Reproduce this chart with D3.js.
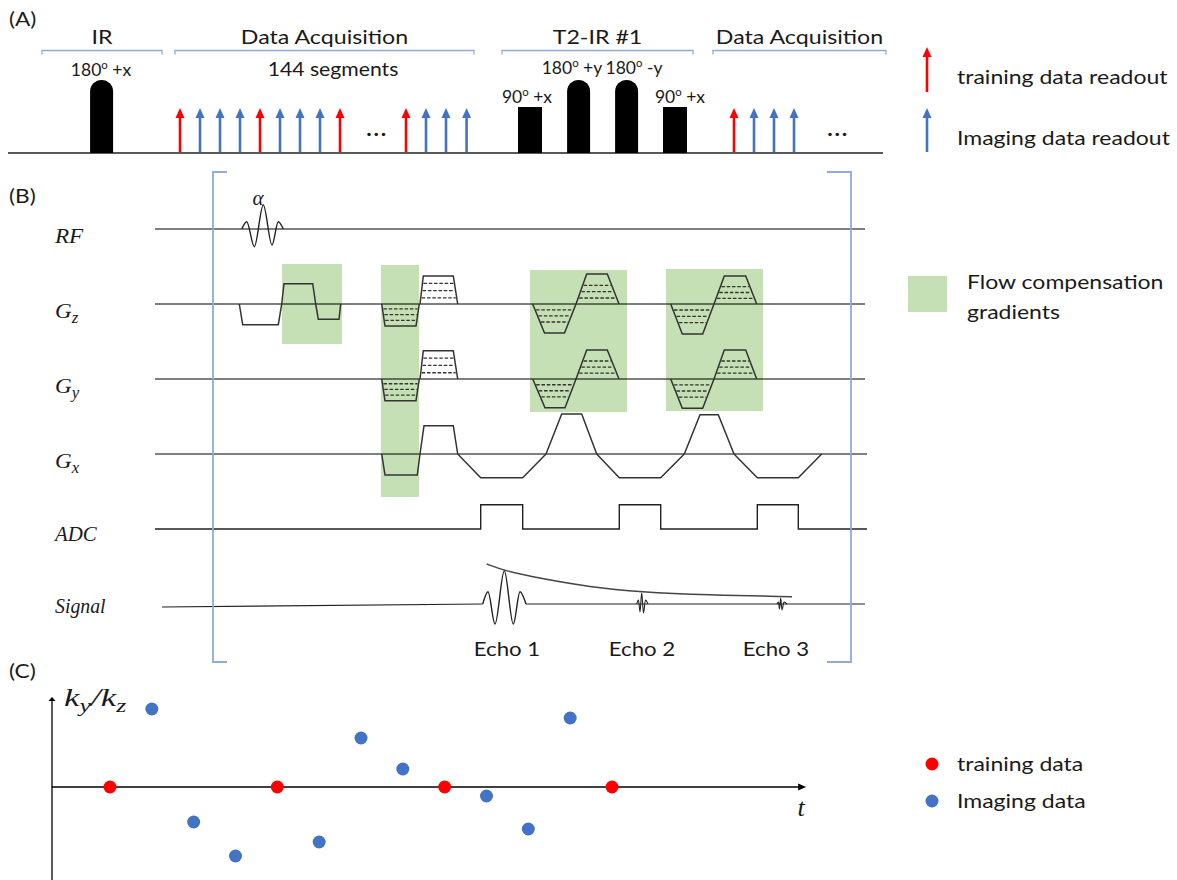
<!DOCTYPE html>
<html>
<head>
<meta charset="utf-8">
<script src="https://cdnjs.cloudflare.com/ajax/libs/d3/7.8.5/d3.min.js"></script>
<style>
  body { margin: 0; background: #fff; }
  svg { display: block; }
  .lbl { font-family: Lato, "Open Sans", sans-serif; fill: #1a1a1a; }
  .math { font-family: "Liberation Serif", "DejaVu Serif", serif; font-style: italic; fill: #1a1a1a; }
</style>
</head>
<body>
<svg id="fig" width="1177" height="880"></svg>
<script>
// ---------- panel A data (time unit = one readout spacing, height in pulse units)
var blockNames = ["IR", "Data Acquisition", "T2-IR #1", "Data Acquisition"];
var blockStart = [2.1, 8.75, 25.1, 35.65];
var blockEnd   = [8.1, 23.7, 34.65, 44.3];

var pulseCenter = [5.08, 26.5, 28.93, 31.33, 33.75];
var pulseWidth  = [1.15, 1.2, 1.15, 1.15, 1.2];
var pulseHeight = [3.65, 2.3, 3.65, 3.65, 2.3];
var pulseShape  = ["round", "rect", "round", "round", "rect"];
var pulseAngle  = ["180", "90", "180", "180", "90"];
var pulsePhase  = [" +x", " +x", " +y", " -y", " +x"];
var labelT      = [5.05, 26.35, 28.6, 31.7, 34.0];
var labelH      = [3.85, 2.52, 3.95, 3.95, 2.52];

var readoutT    = [9, 10, 11, 12, 13, 14, 15, 16, 17, 20.3, 21.3, 22.3, 23.33, 36.7, 37.7, 38.7, 39.7];
var readoutKind = ["train", "img", "img", "img", "train", "img", "img", "img", "train",
                   "train", "img", "img", "img", "train", "img", "img", "img"];
var ellipsisT   = [18.85, 41.9];

// ---------- panel B data (time unit = 1/71 of the window, amplitude in grad units)
var channels = ["RF", "Gz", "Gy", "Gx", "ADC", "Signal"];
var rfT = [8.67, 9.17, 9.93, 10.83, 11.7, 12.33, 12.83];
var rfA = [0, 0.73, -1.77, 2.4, -1.6, 0.73, 0];

// trapezoids: [start, top start, top end, end, amplitude, kind]
var gzTrap = [
  [8.43, 8.77, 12.33, 12.67, -2.07, "plain"],
  [12.67, 12.9, 15.77, 16.07, 2.03, "plain"],
  [16.07, 16.33, 18.4, 18.57, -1.53, "plain"],
  [22.67, 23.0, 26.1, 26.43, -2.2, "pe"],
  [26.5, 26.83, 29.83, 30.27, 2.8, "pe"],
  [37.77, 38.95, 40.95, 42.1, -2.9, "fc"],
  [42.1, 43.17, 45.23, 46.4, 3.0, "fc"],
  [51.57, 52.73, 54.77, 55.9, -3.0, "fc"],
  [55.9, 56.93, 59.07, 60.17, 2.8, "fc"]
];
var gyTrap = [
  [22.67, 23.0, 26.1, 26.43, -2.17, "pe"],
  [26.5, 26.83, 29.83, 30.27, 2.83, "pe"],
  [37.77, 39.0, 41.0, 42.1, -2.87, "fc"],
  [42.1, 43.17, 45.23, 46.4, 2.9, "fc"],
  [51.57, 52.73, 54.77, 55.9, -2.93, "fc"],
  [55.9, 56.93, 59.07, 60.17, 2.9, "fc"]
];
var gxTrap = [
  [22.67, 23.0, 26.23, 26.5, -2.1, "plain"],
  [26.5, 26.9, 29.83, 30.27, 2.83, "plain"],
  [30.27, 32.57, 36.77, 39.1, -2.37, "plain"],
  [39.1, 40.67, 42.67, 44.17, 4.0, "plain"],
  [44.17, 46.43, 50.57, 52.93, -2.37, "plain"],
  [52.93, 54.5, 56.33, 57.9, 3.93, "plain"],
  [57.9, 60.23, 64.33, 66.67, -2.37, "plain"]
];
var peSteps = [0.22, 0.48, 0.74];
var fcSteps = [0.2, 0.41, 0.62];

var adcStart = [32.57, 46.43, 60.23];
var adcEnd   = [36.77, 50.57, 64.33];
var adcAmp   = 2.43;

var echoNames  = ["Echo 1", "Echo 2", "Echo 3"];
var echoLabelT = [35.2, 48.7, 62.1];
var echoT = [
  [32.77, 33.3, 34.0, 34.93, 35.83, 36.5, 37.1],
  [48.17, 48.35, 48.5, 48.67, 48.85, 49.05, 49.3],
  [62.2, 62.35, 62.45, 62.57, 62.7, 62.9, 63.2]
];
var echoA = [
  [0, 1.23, -2.0, 3.33, -2.0, 1.23, 0],
  [0, 0.4, -0.8, 1.13, -0.9, 0.4, 0],
  [0, 0.2, -0.5, 0.6, -0.6, 0.2, 0]
];
var decayT = [33.17, 34.93, 38.5, 43.5, 48.5, 55.2, 63.7];
var decayA = [4.0, 3.33, 2.57, 1.7, 1.2, 0.9, 0.73];

// flow compensation boxes
var fcT0 = [12.7, 22.6, 37.5, 51.1];
var fcT1 = [18.7, 26.4, 47.2, 60.8];
var fcFrom = ["Gz", "Gz", "Gz", "Gz"];
var fcTo   = ["Gz", "Gx", "Gy", "Gy"];
var fcPadTop = [4.0, 3.9, 3.4, 3.5];
var fcPadBot = [4.0, 4.3, 3.3, 3.2];

// ---------- panel C data
var trainStep = [0, 4, 8, 12];
var imgStep   = [1, 2, 3, 5, 6, 7, 9, 10, 11];
var imgK      = [0.78, -0.35, -0.69, -0.55, 0.49, 0.18, -0.09, -0.42, 0.69];

var RED = "#ff0000", BLUE = "#4472c4", GREEN = "#c5e0b4", BRACKET = "#8faadc";
var SX = 1.16;   // the original text is drawn a little wide

var svg = d3.select("#fig");

// scales
var xA = d3.scaleLinear().domain([0, 44]).range([0, 880]);
var yA = d3.scaleLinear().domain([0, 1]).range([153, 133]);
var xB = d3.scaleLinear().domain([0, 71]).range([155, 865]);
var rowY = d3.scalePoint().domain(channels).range([229, 604]);
var amp = d3.scaleLinear().domain([0, 1]).range([0, -10]);
var xC = d3.scaleLinear().domain([0, 12]).range([110, 612]);
var yC = d3.scaleLinear().domain([-1, 1]).range([887, 687]);

function label(g, x, y, txt, size, anchor, sx) {
  return g.append("text").attr("class", "lbl")
    .attr("transform", "translate(" + x + "," + y + ") scale(" + (sx || SX) + ",1)")
    .attr("font-size", size).attr("text-anchor", anchor || "start").text(txt);
}
function degLabel(g, x, y, ang, tail, size) {
  var t = g.append("text").attr("class", "lbl").attr("x", x).attr("y", y)
    .attr("font-size", size).attr("text-anchor", "middle");
  t.append("tspan").text(ang);
  t.append("tspan").attr("dy", -7).attr("font-size", size * 0.65).text("o");
  t.append("tspan").attr("dy", 7).text(tail);
}
function upArrow(g, x, yBase, yTip, col) {
  g.append("line").attr("x1", x).attr("x2", x).attr("y1", yBase).attr("y2", yTip + 8)
    .attr("stroke", col).attr("stroke-width", 2.6);
  g.append("path").attr("d", "M" + (x - 4.5) + "," + (yTip + 10) + "L" + x + "," + yTip + "L" + (x + 4.5) + "," + (yTip + 10) + "Z")
    .attr("fill", col);
}

// ================= (A)
var gA = svg.append("g");
label(gA, 9, 26, "(A)", 19.5);

gA.append("line").attr("x1", xA(0.4)).attr("x2", xA(44.15))
  .attr("y1", yA(0)).attr("y2", yA(0)).attr("stroke", "#595959").attr("stroke-width", 2);

blockNames.forEach(function (n, i) {
  var x0 = xA(blockStart[i]), x1 = xA(blockEnd[i]), y = 50.5;
  gA.append("path").attr("d", "M" + x0 + "," + (y + 4) + "L" + x0 + "," + y + "L" + x1 + "," + y + "L" + x1 + "," + (y + 4))
    .attr("fill", "none").attr("stroke", BRACKET).attr("stroke-width", 1.3);
  label(gA, (x0 + x1) / 2, 44, n, 20, "middle");
});
label(gA, 333, 76, "144 segments", 20, "middle", 1.06);

pulseCenter.forEach(function (c, i) {
  var w = xA(pulseWidth[i]) - xA(0), x0 = xA(c) - w / 2, x1 = x0 + w;
  var top = yA(pulseHeight[i]), base = yA(0), r = w / 2, d;
  if (pulseShape[i] === "round") {
    d = "M" + x0 + "," + base + "L" + x0 + "," + (top + r) + "A" + r + "," + r + " 0 0 1 " + x1 + "," + (top + r) + "L" + x1 + "," + base + "Z";
  } else {
    d = "M" + x0 + "," + base + "L" + x0 + "," + top + "L" + x1 + "," + top + "L" + x1 + "," + base + "Z";
  }
  gA.append("path").attr("d", d).attr("fill", "#000");
  degLabel(gA, xA(labelT[i]), yA(labelH[i]), pulseAngle[i], pulsePhase[i], 17.5);
});

readoutT.forEach(function (t, i) {
  upArrow(gA, xA(t), yA(0) - 1, yA(2.25), readoutKind[i] === "train" ? RED : BLUE);
});
ellipsisT.forEach(function (t) {
  label(gA, xA(t), 136, "...", 20, "middle").attr("letter-spacing", 1.5).attr("font-weight", "bold");
});

// legend A
upArrow(gA, 927, 92, 47, RED);
label(gA, 957, 84, "training data readout", 19.5, "start", 1.18);
upArrow(gA, 927, 152, 108, BLUE);
label(gA, 957, 145, "Imaging data readout", 19.5, "start", 1.18);

// ================= (B)
var gB = svg.append("g");
label(gB, 9, 203, "(B)", 19.5);

// flow compensation boxes
fcT0.forEach(function (t0, i) {
  var y0 = rowY(fcFrom[i]) + amp(fcPadTop[i]);
  var y1 = rowY(fcTo[i]) - amp(fcPadBot[i]);
  gB.append("rect").attr("x", xB(t0)).attr("y", y0)
    .attr("width", xB(fcT1[i]) - xB(t0)).attr("height", y1 - y0).attr("fill", GREEN);
});

// channel baselines
var baseEnd = {RF: 71, Gz: 71, Gy: 71, Gx: 71.2, ADC: 71.2, Signal: 71};
["RF", "Gz", "Gy", "Gx"].forEach(function (ch) {
  gB.append("line").attr("x1", xB(0)).attr("x2", xB(baseEnd[ch]))
    .attr("y1", rowY(ch)).attr("y2", rowY(ch)).attr("stroke", "#000").attr("stroke-width", 1.2);
});

// channel labels
var chLabel = {RF: ["RF", ""], Gz: ["G", "z"], Gy: ["G", "y"], Gx: ["G", "x"], ADC: ["ADC", ""], Signal: ["Signal", ""]};
var chOff = {RF: 14, Gz: 14, Gy: 14, Gx: 14, ADC: 12, Signal: 9};
var chSx = {RF: 1.05, Gz: 1.05, Gy: 1.05, Gx: 1.05, ADC: 0.95, Signal: 0.9};
channels.forEach(function (ch) {
  var t = gB.append("text").attr("class", "math")
    .attr("transform", "translate(55," + (rowY(ch) + chOff[ch]) + ") scale(" + chSx[ch] + ",1)")
    .attr("font-size", 22);
  t.append("tspan").text(chLabel[ch][0]);
  if (chLabel[ch][1]) t.append("tspan").attr("dy", 5).attr("font-size", 16).text(chLabel[ch][1]);
});

// RF pulse
var rfLine = d3.line().x(function (d) { return xB(d[0]); }).y(function (d) { return rowY("RF") + amp(d[1]); }).curve(d3.curveMonotoneX);
gB.append("path").attr("d", rfLine(rfT.map(function (t, i) { return [t, rfA[i]]; })))
  .attr("fill", "none").attr("stroke", "#222").attr("stroke-width", 1.4);
gB.append("text").attr("class", "math").attr("x", 258).attr("y", 205).attr("font-size", 21)
  .attr("text-anchor", "middle").text("α");

// gradients
function drawTraps(ch, traps) {
  var y0 = rowY(ch);
  traps.forEach(function (tr) {
    var pts = [[tr[0], 0], [tr[1], tr[4]], [tr[2], tr[4]], [tr[3], 0]];
    gB.append("path").attr("d", d3.line().x(function (d) { return xB(d[0]); }).y(function (d) { return y0 + amp(d[1]); })(pts))
      .attr("fill", "none").attr("stroke", "#333").attr("stroke-width", 1.5);
    var steps = tr[5] === "pe" ? peSteps : tr[5] === "fc" ? fcSteps : [];
    steps.forEach(function (f) {
      var lvl = f * tr[4];
      var a = tr[0] + f * (tr[1] - tr[0]), b = tr[3] - f * (tr[3] - tr[2]);
      gB.append("line").attr("x1", xB(a) + 1).attr("x2", xB(b) - 1)
        .attr("y1", y0 + amp(lvl)).attr("y2", y0 + amp(lvl))
        .attr("stroke", "#333").attr("stroke-width", 1.3).attr("stroke-dasharray", "3.5,1.8");
    });
  });
}
drawTraps("Gz", gzTrap);
drawTraps("Gy", gyTrap);
drawTraps("Gx", gxTrap);

// ADC
var adcPts = [[0, 0]];
adcStart.forEach(function (s, i) {
  adcPts.push([s, 0], [s, adcAmp], [adcEnd[i], adcAmp], [adcEnd[i], 0]);
});
adcPts.push([71.2, 0]);
gB.append("path").attr("d", d3.line().x(function (d) { return xB(d[0]); }).y(function (d) { return rowY("ADC") + amp(d[1]); })(adcPts))
  .attr("fill", "none").attr("stroke", "#222").attr("stroke-width", 1.4);

// Signal
var sigLine = d3.line().x(function (d) { return xB(d[0]); }).y(function (d) { return rowY("Signal") + amp(d[1]); });
gB.append("path").attr("d", sigLine([[0.7, -0.3], [echoT[0][0], 0]])).attr("fill", "none").attr("stroke", "#222").attr("stroke-width", 1.2);
gB.append("path").attr("d", sigLine([[echoT[0][6], 0], [71, 0]])).attr("fill", "none").attr("stroke", "#222").attr("stroke-width", 1.2);
echoT.forEach(function (ts, k) {
  gB.append("path").attr("d", sigLine.curve(d3.curveMonotoneX)(ts.map(function (t, i) { return [t, echoA[k][i]]; })))
    .attr("fill", "none").attr("stroke", "#222").attr("stroke-width", k === 0 ? 1.4 : 1.1);
  sigLine.curve(d3.curveLinear);
  label(gB, xB(echoLabelT[k]), 656, echoNames[k], 19.5, "middle", 1.14);
});
gB.append("path").attr("d", sigLine.curve(d3.curveBasis)(decayT.map(function (t, i) { return [t, decayA[i]]; })))
  .attr("fill", "none").attr("stroke", "#444").attr("stroke-width", 1.5);
sigLine.curve(d3.curveLinear);

// brackets around one segment
var bl = xB(5.8), br = xB(69.6), bt = 172, bb = 662;
gB.append("path").attr("d", "M" + (bl + 14) + "," + bt + "L" + bl + "," + bt + "L" + bl + "," + bb + "L" + (bl + 14) + "," + bb)
  .attr("fill", "none").attr("stroke", BRACKET).attr("stroke-width", 1.8);
gB.append("path").attr("d", "M" + (br - 24) + "," + bt + "L" + br + "," + bt + "L" + br + "," + bb + "L" + (br - 24) + "," + bb)
  .attr("fill", "none").attr("stroke", BRACKET).attr("stroke-width", 1.8);

// legend B
gB.append("rect").attr("x", 908).attr("y", 276).attr("width", 39).attr("height", 36).attr("fill", GREEN);
label(gB, 967, 289, "Flow compensation", 19.5, "start", 1.18);
label(gB, 967, 319, "gradients", 19.5, "start", 1.18);

// ================= (C)
var gC = svg.append("g");
label(gC, 9, 678, "(C)", 19.5);

gC.append("line").attr("x1", 52).attr("x2", 52).attr("y1", 880).attr("y2", yC(0.88))
  .attr("stroke", "#000").attr("stroke-width", 1.3);
gC.append("path").attr("d", "M48.5," + yC(0.86) + "L52," + yC(0.9) + "L55.5," + yC(0.86) + "Z").attr("fill", "#000");
gC.append("line").attr("x1", 52).attr("x2", xC(16.5)).attr("y1", yC(0)).attr("y2", yC(0))
  .attr("stroke", "#000").attr("stroke-width", 1.3);
gC.append("path").attr("d", "M" + (xC(16.64) - 8) + "," + (yC(0) - 3.5) + "L" + xC(16.64) + "," + yC(0) + "L" + (xC(16.64) - 8) + "," + (yC(0) + 3.5) + "Z").attr("fill", "#000");

var kl = gC.append("text").attr("class", "math")
  .attr("transform", "translate(64,706) scale(1.35,1)").attr("font-size", 26);
kl.append("tspan").text("k");
kl.append("tspan").attr("dy", 6).attr("font-size", 19).text("y");
kl.append("tspan").attr("dy", -6).text("/k");
kl.append("tspan").attr("dy", 6).attr("font-size", 19).text("z");
gC.append("text").attr("class", "math").attr("x", 801).attr("y", 816).attr("font-size", 26)
  .attr("text-anchor", "middle").text("t");

gC.selectAll(".train").data(trainStep).enter().append("circle")
  .attr("cx", function (d) { return xC(d); }).attr("cy", yC(0)).attr("r", 6.5).attr("fill", RED);
gC.selectAll(".img").data(imgStep).enter().append("circle")
  .attr("cx", function (d) { return xC(d); }).attr("cy", function (d, i) { return yC(imgK[i]); })
  .attr("r", 6.5).attr("fill", BLUE);

// legend C
gC.append("circle").attr("cx", 932).attr("cy", 764).attr("r", 6.5).attr("fill", RED);
label(gC, 957, 771, "training data", 19.5, "start", 1.18);
gC.append("circle").attr("cx", 932).attr("cy", 801).attr("r", 6.5).attr("fill", BLUE);
label(gC, 957, 808, "Imaging data", 19.5, "start", 1.18);
</script>
</body>
</html>
